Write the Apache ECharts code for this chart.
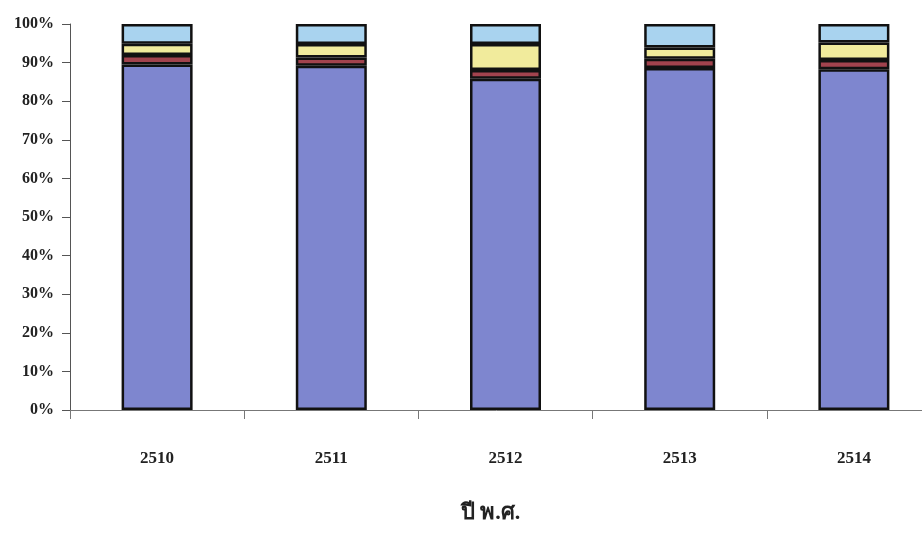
<!DOCTYPE html>
<html><head><meta charset="utf-8">
<script src="https://cdn.jsdelivr.net/npm/echarts@6/dist/echarts.min.js"></script>
<style>html,body{margin:0;padding:0;background:#fff}#c{width:922px;height:544px}</style>
</head><body><div id="c"></div>
<script>
const years = ['2510','2511','2512','2513','2514'];
const seriesBlue = [89.5, 89.2, 85.8, 88.6, 88.3];
const seriesRed = [2.5, 2.1, 2.3, 2.4, 2.4];
const seriesYellow = [2.9, 3.5, 6.7, 2.9, 4.5];
const seriesLightBlue = [5.1, 5.2, 5.2, 6.1, 4.8];
const yTicks = ['0%','10%','20%','30%','40%','50%','60%','70%','80%','90%','100%'];

const chart = echarts.init(document.getElementById('c'));
const font = '"Liberation Serif","Times New Roman",serif';
function mk(name, data, color){
  return {name, type:'bar', stack:'t', data, barWidth:71,
    itemStyle:{color, borderColor:'#111', borderWidth:2.5}};
}
chart.setOption({
  animation:false,
  grid:{left:70, width:871, top:24, bottom:134, outerBoundsMode:'none', containLabel:false},
  xAxis:{type:'category', data:years,
    name:'ปี พ.ศ.', nameLocation:'middle', nameGap:92,
    nameTextStyle:{fontFamily:font, fontWeight:'bold', fontSize:22, color:'#222', padding:[0,30,0,0]},
    axisLine:{lineStyle:{color:'#777', width:1}},
    axisTick:{show:true, length:9, lineStyle:{color:'#777'}},
    axisLabel:{fontFamily:font, fontWeight:'bold', fontSize:17, color:'#222', margin:40}},
  yAxis:{type:'value', min:0, max:100, interval:10,
    axisLine:{show:true, lineStyle:{color:'#555', width:1}},
    axisTick:{show:true, length:8, lineStyle:{color:'#555'}},
    splitLine:{show:false},
    axisLabel:{fontFamily:font, fontWeight:'bold', fontSize:16, color:'#222', margin:16,
      formatter:(v)=>yTicks[Math.round(v/10)]}},
  series:[
    mk('s1', seriesBlue, '#7e86cf'),
    mk('s2', seriesRed, '#a2434e'),
    mk('s3', seriesYellow, '#f1eb9c'),
    mk('s4', seriesLightBlue, '#a9d3ef')
  ]
});
</script></body></html>
